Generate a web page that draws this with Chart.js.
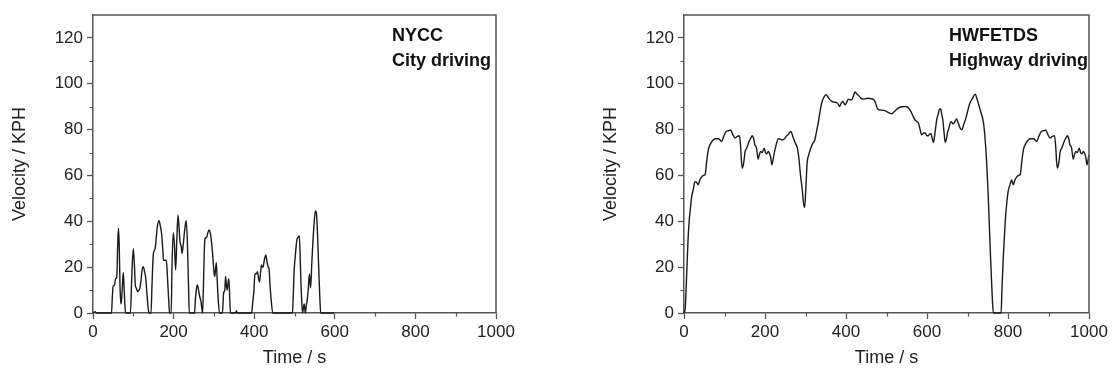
<!DOCTYPE html>
<html>
<head>
<meta charset="utf-8">
<script src="https://cdn.jsdelivr.net/npm/chart.js@4.4.0/dist/chart.umd.min.js"></script>
<style>
    body { margin: 0; background: #fff; width: 1112px; height: 371px; overflow: hidden; position: relative; }
    .panel { position: absolute; top: 0; height: 371px; }
    #leftPanel { left: 0; width: 556px; }
    #rightPanel { left: 591px; width: 521px; }
</style>
</head>
<body>
<div class="panel" id="leftPanel"><canvas id="nycc" width="556" height="371"></canvas></div>
<div class="panel" id="rightPanel"><canvas id="hwy" width="521" height="371"></canvas></div>
<script>
// NYCC - city driving cycle (time in s, velocity in KPH)
const nyccTime = [0, 5, 9, 46, 48, 50, 53, 56, 59, 61, 63, 65, 67, 69, 71, 73, 75, 77, 79, 81,
    93, 96, 100, 103, 105, 107, 109, 111, 114, 116, 119, 122, 125, 128, 131, 134, 137, 139,
    144, 146, 148, 150, 154, 157, 160, 164, 167, 170, 173, 175, 182, 185, 188, 190,
    194, 196, 199, 202, 205, 208, 211, 214, 216, 219, 221, 224, 228, 231, 234, 237, 239,
    252, 254, 257, 259, 262, 265, 268, 270, 272, 274, 276, 278, 282, 285, 288, 291, 294, 298,
    300, 302, 304, 306, 308, 311, 314, 321, 323, 324, 327, 329, 331, 333, 335, 337, 339, 341,
    354, 356, 358, 394, 396, 399, 402, 405, 408, 411, 413, 416, 418, 420, 422, 425, 429, 432,
    435, 437, 439, 442, 446, 495, 497, 499, 502, 506, 509, 512, 514, 516, 518, 520, 522, 524,
    526, 527, 529, 531, 534, 537, 540, 543, 546, 549, 552, 554, 557, 560, 563, 565, 598];
const nyccSpeed = [0, 0.6, 0, 0, 7, 11.8, 12, 15, 15.5, 28, 37, 30, 12, 4, 6, 12, 17.6, 12, 4, 0,
    0, 15, 28, 20, 12, 11, 10, 9.3, 10, 10.5, 14, 19, 20.2, 18, 15, 8, 2, 0,
    0, 10, 20, 26, 28, 33, 38, 40.3, 38, 35, 28, 23, 23, 15, 5, 0,
    0, 20, 35, 30, 18.8, 32, 42.8, 36, 31, 29, 26, 30, 37, 40.3, 32, 12, 0,
    0, 6, 11, 12.2, 10, 7, 5, 2, 0, 12, 26, 32.6, 33, 35, 36.2, 35, 31, 23,
    18, 15.9, 19, 21.9, 15, 5, 0, 0, 5, 8.6, 10, 15.9, 12, 10, 13, 15, 8, 0,
    0, 1, 0, 0, 4, 9, 17.3, 17, 18, 15, 13.5, 18, 21, 20, 20, 23, 25.3, 22,
    20, 19, 13, 6, 0, 0, 8, 18, 25, 32, 33, 33.6, 25, 13, 5, 0, 2, 4,
    1, 0, 3, 5, 10, 17, 11, 22, 32, 40, 44.5, 44, 35, 20, 6, 0, 0];

// HWFETDS - highway driving cycle
const hwyTime = [0, 3, 6, 8, 10, 13, 16, 19, 23, 27, 31, 35, 39, 44, 48, 52, 56, 60, 66, 72,
    78, 85, 89, 93, 98, 104, 110, 115, 120, 126, 131, 137, 140, 142, 144, 147, 151, 155, 159,
    164, 169, 172, 175, 179, 183, 186, 189, 193, 198, 201, 204, 208, 211, 214, 217, 220, 222,
    227, 233, 238, 243, 248, 252, 258, 263, 266, 270, 275, 280, 284, 288, 292, 295, 298, 301,
    304, 308, 313, 318, 323, 327, 332, 336, 340, 345, 351, 358, 365, 371, 377, 381, 384, 388,
    392, 395, 398, 402, 406, 410, 414, 418, 422, 427, 433, 438, 443, 449, 455, 461, 467, 472,
    477, 482, 489, 496, 504, 513, 520, 529, 537, 546, 552, 558, 564, 570, 575, 579, 583, 587,
    591, 595, 599, 603, 606, 610, 613, 616, 620, 624, 628, 631, 634, 636, 639, 642, 645, 648,
    651, 653, 656, 659, 662, 665, 669, 673, 677, 681, 686, 691, 696, 701, 706, 712, 719, 724,
    729, 734, 739, 743, 747, 751, 754, 757, 760, 762, 764, 783, 785, 788, 791, 794, 797, 801,
    805, 809, 813, 817, 822, 826, 830, 834, 838, 844, 850, 856, 863, 867, 871, 876, 882, 888,
    893, 898, 904, 909, 915, 918, 920, 922, 925, 929, 933, 937, 942, 947, 950, 953, 957, 961,
    964, 967, 971, 976, 979, 982, 986, 989, 992, 995, 998, 1000];
const hwySpeed = [0, 2, 14, 23, 32, 40.6, 46, 50.8, 54, 57.3, 57, 55.9, 58, 59.5, 60, 60.3, 66, 71.2, 74, 75.5,
    76, 76, 75.5, 74.8, 77, 79.2, 79.5, 79.9, 78, 76.3, 77, 77.3, 72, 66, 63.2, 65, 70.5, 72, 74.1,
    76, 77.3, 76, 73.4, 72, 67.1, 69, 70.5, 70, 71.9, 70, 69.4, 70.5, 69.7, 68, 64.6, 67, 69,
    73, 76, 75.8, 75.5, 76, 77, 78, 79.2, 78.5, 76.3, 74, 71.9, 67, 59.5, 54, 48, 46, 55,
    65.4, 69, 71.9, 74, 75.5, 79, 83.5, 88, 91.6, 94, 95.2, 93.5, 92.3, 92, 91.8, 91, 90.1, 91.5,
    92.3, 91.5, 90.8, 92, 93.3, 93, 93, 94.5, 96.4, 95.5, 94.5, 93.5, 93.3, 93.5, 93.7, 93.5, 93.3, 92,
    89.5, 88.6, 88.5, 88.3, 87.5, 86.9, 88, 89.4, 90, 90.1, 89.8, 88.6, 86.5, 84.3, 83.5, 82.8, 80, 77.7,
    78.5, 78.7, 77.5, 77.3, 78, 78.2, 76, 74.4, 79, 84.3, 87, 89, 89, 87, 84.3, 79, 74.4, 76,
    79, 79.9, 82, 83.5, 83, 82.5, 83.5, 84.6, 83, 81, 79.9, 82.5, 85, 88.5, 91.6, 93.5, 95.5, 93,
    90.1, 87, 83.5, 77, 66.8, 52, 37.7, 24, 11.5, 4, 0, 0, 10, 23, 33, 42, 48, 53.7,
    56, 58, 55.9, 58, 59.5, 60, 60.3, 66, 71.2, 74, 75.5, 76, 76, 75.5, 74.8, 77, 79.2, 79.5,
    79.9, 78, 76.3, 77, 77.3, 72, 66, 63.2, 65, 70.5, 72, 74.1, 76, 77.3, 76, 73.4, 72, 67.1,
    69, 70.5, 70, 71.9, 70, 69.4, 70.5, 69.7, 68, 64.6, 67, 69];

const xTicks = [0, 200, 400, 600, 800, 1000];
const yTicks = [0, 20, 40, 60, 80, 100, 120];
const xMinor = [100, 300, 500, 700, 900];
const yMinor = [10, 30, 50, 70, 90, 110];

Chart.defaults.font.family = "'Liberation Sans', Arial, sans-serif";
Chart.defaults.font.size = 17;
Chart.defaults.color = '#222';

const axisColor = '#555';

// frame on all 4 sides, minor ticks and the cycle labels
const framePlugin = {
    id: 'frame',
    afterDraw(chart, args, opts) {
        const ctx = chart.ctx;
        const a = chart.chartArea;
        const xs = chart.scales.x;
        const ys = chart.scales.y;
        ctx.save();
        ctx.strokeStyle = axisColor;
        ctx.lineWidth = 1.5;
        ctx.beginPath();
        ctx.moveTo(a.left, a.top);
        ctx.lineTo(a.right, a.top);
        ctx.lineTo(a.right, a.bottom);
        ctx.stroke();

        ctx.lineWidth = 1.2;
        ctx.beginPath();
        xMinor.forEach(v => {
            const px = Math.round(xs.getPixelForValue(v)) + 0.5;
            ctx.moveTo(px, a.bottom);
            ctx.lineTo(px, a.bottom + 3.5);
        });
        yMinor.forEach(v => {
            const py = Math.round(ys.getPixelForValue(v)) + 0.5;
            ctx.moveTo(a.left, py);
            ctx.lineTo(a.left - 3.5, py);
        });
        ctx.stroke();

        ctx.fillStyle = '#111';
        ctx.font = "bold 18px 'Liberation Sans', Arial, sans-serif";
        ctx.textBaseline = 'middle';
        ctx.textAlign = 'left';
        opts.lines.forEach((t, i) => {
            ctx.fillText(t, opts.x, 36 + i * 25);
        });
        ctx.restore();
    }
};

function makeChart(id, times, speeds, labelLines, labelX, rightPad) {
    const points = times.map((t, i) => ({ x: t, y: speeds[i] }));
    return new Chart(document.getElementById(id), {
        type: 'line',
        data: {
            datasets: [{
                data: points,
                borderColor: '#1a1a1a',
                borderWidth: 1.4,
                pointRadius: 0,
                cubicInterpolationMode: 'monotone',
                clip: false
            }]
        },
        options: {
            responsive: false,
            animation: false,
            events: [],
            layout: { padding: { left: 0, top: 15, right: rightPad, bottom: 0 } },
            plugins: {
                legend: { display: false },
                tooltip: { enabled: false },
                frame: { lines: labelLines, x: labelX }
            },
            scales: {
                x: {
                    type: 'linear',
                    min: 0,
                    max: 1000,
                    afterBuildTicks: s => { s.ticks = xTicks.map(v => ({ value: v })); },
                    afterFit: s => { s.height = 58; },
                    ticks: { padding: 3, maxRotation: 0, color: '#222', callback: v => String(v) },
                    grid: { drawOnChartArea: false, tickLength: 6, tickColor: axisColor, tickWidth: 1.3 },
                    border: { color: axisColor, width: 1.5 },
                    title: { display: true, text: 'Time / s', font: { size: 18 }, padding: { bottom: 2 }, color: '#222' }
                },
                y: {
                    min: 0,
                    max: 130,
                    afterBuildTicks: s => { s.ticks = yTicks.map(v => ({ value: v })); },
                    afterFit: s => { s.width = 93; },
                    ticks: { padding: 4, color: '#222', callback: v => String(v) },
                    grid: { drawOnChartArea: false, tickLength: 6, tickColor: axisColor, tickWidth: 1.3 },
                    border: { color: axisColor, width: 1.5 },
                    title: { display: true, text: 'Velocity / KPH', font: { size: 18 }, padding: { top: 9 }, color: '#222' }
                }
            }
        },
        plugins: [framePlugin]
    });
}

makeChart('nycc', nyccTime, nyccSpeed, ['NYCC', 'City driving'], 392, 60);
makeChart('hwy', hwyTime, hwySpeed, ['HWFETDS', 'Highway driving'], 358, 23);
</script>
</body>
</html>
